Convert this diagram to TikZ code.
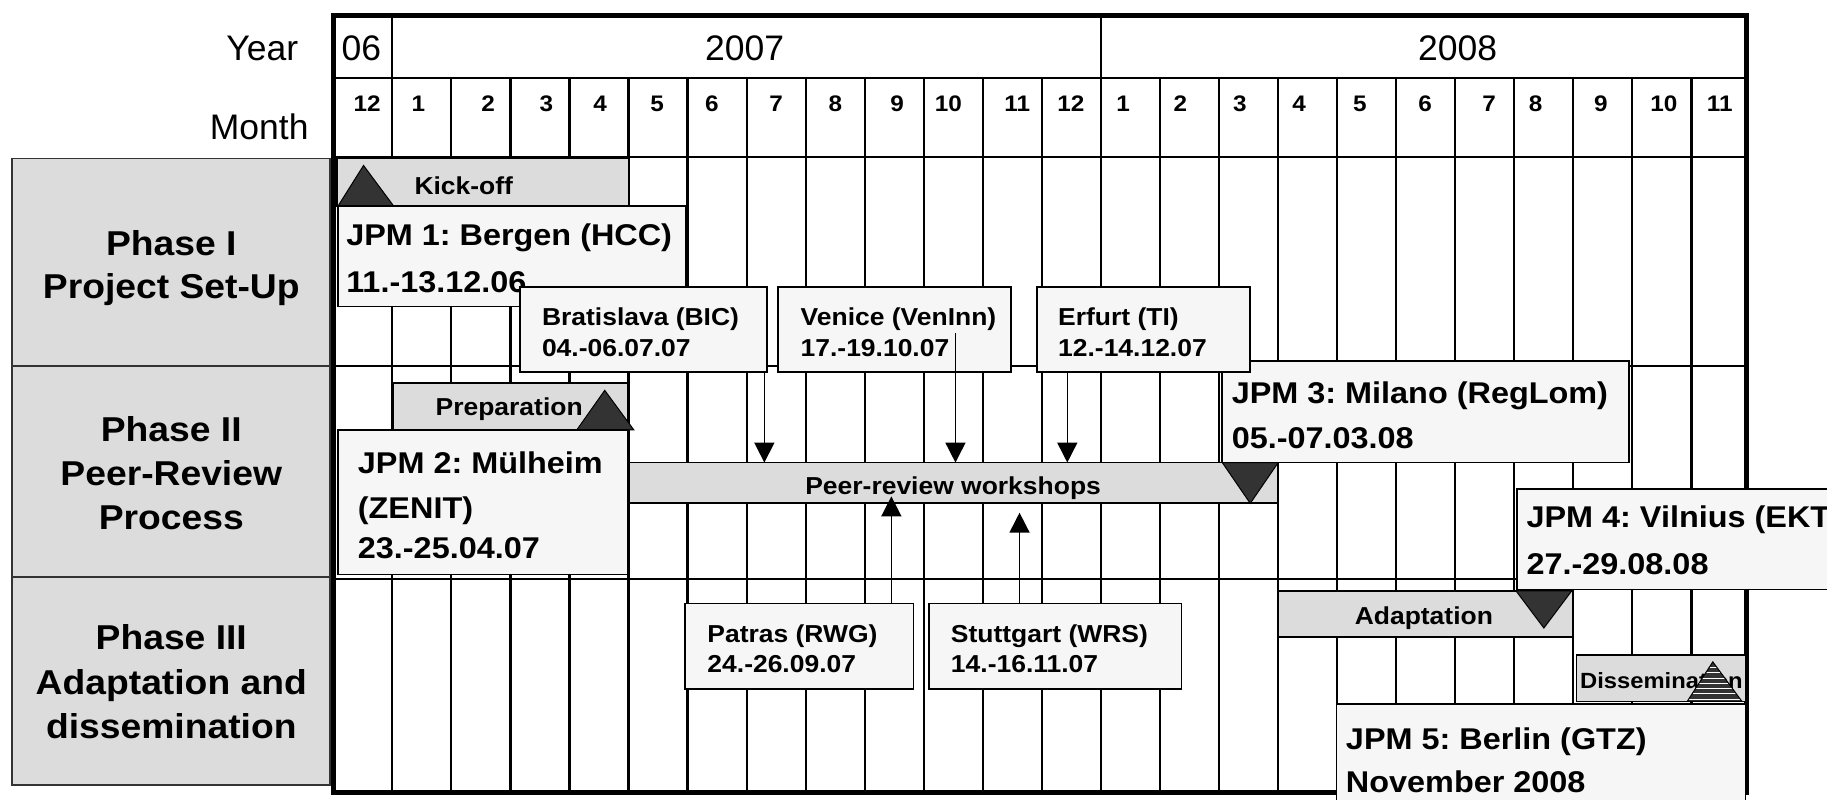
\documentclass[tikz,border=0pt]{standalone}
\usepackage{fontspec}
\setmainfont{Liberation Sans}[BoldFeatures={FakeStretch=1.08}]
\usetikzlibrary{arrows.meta,fit}
\definecolor{barg}{HTML}{DCDCDC}
\definecolor{boxg}{HTML}{F6F6F6}
\definecolor{trig}{HTML}{333333}
\newcommand\setfs[1]{\fontsize{#1}{#1}\selectfont}
\frenchspacing
\tikzset{
  gridl/.style={line width=2.2pt},
  outerb/.style={line width=5pt},
  rbox/.style={inner sep=0pt, outer sep=0pt, draw, line width=1.8pt},
  phasebox/.style={rbox, fill=barg, draw=black!80},
  barbox/.style={rbox, fill=barg},
  evbox/.style={rbox, fill=boxg},
  trimark/.style={fill=trig, draw=black, line width=1pt},
  regtxt/.style={inner sep=0pt, font=\setfs{35.5}},
  phtxt/.style={inner sep=0pt, font=\setfs{34.5}\bfseries, anchor=base},
  montxt/.style={inner sep=0pt, font=\setfs{22.5}\bfseries, anchor=base},
  jpmtxt/.style={inner sep=0pt, font=\setfs{30}\bfseries, anchor=base west},
  wstxt/.style={inner sep=0pt, font=\setfs{24.5}\bfseries, anchor=base west},
  bartxt/.style={inner sep=0pt, font=\setfs{24.5}\bfseries, anchor=base},
  arrw/.style={line width=1.6pt, -{Triangle[length=20pt,width=20pt]}},
}
\begin{document}
\begin{tikzpicture}[x=1.1652pt,y=-1.1652pt]
\useasboundingbox (0,0) rectangle (1568,686);
\clip (0,0) rectangle (1568,686);
\fill[white] (0,0) rectangle (1568,686);

% phase boxes
\node[phasebox, fit={(10,136) (283,314)}] (ph1) {};
\node[phasebox, fit={(10,314) (283,495)}] (ph2) {};
\node[phasebox, fit={(10,495) (283,674)}] (ph3) {};
\node[phtxt] (ph1a) at (147,219) {Phase I};
\node[phtxt] (ph1b) at (147,256) {Project Set-Up};
\node[phtxt] (ph2a) at (147,379) {Phase II};
\node[phtxt] (ph2b) at (147,417) {Peer-Review};
\node[phtxt] (ph2c) at (147,454) {Process};
\node[phtxt] (ph3a) at (147,557) {Phase III};
\node[phtxt] (ph3b) at (147,596) {Adaptation and};
\node[phtxt] (ph3c) at (147,634) {dissemination};

% grid
\foreach \k in {2,...,12,14,15,...,23}
  \draw[gridl] ({286+50.68*\k},67) -- ({286+50.68*\k},680);
\draw[gridl] ({286+50.68},13) -- ({286+50.68},680);
\draw[gridl] ({286+50.68*13},13) -- ({286+50.68*13},680);
\foreach \yy in {67,135,314,497}
  \draw[gridl] (286,\yy) -- (1498.5,\yy);
\draw[outerb] (286,13) rectangle (1498.5,680);

% year and month labels
\node[regtxt, anchor=base east] (lyear) at (256,52) {Year};
\node[regtxt, anchor=base east] (lmonth) at (265,120) {Month};
\node[regtxt, anchor=base west] (y06) at (293,52) {06};
\node[regtxt, anchor=base] (y07) at (639,52) {2007};
\node[regtxt, anchor=base] (y08) at (1251,52) {2008};
\foreach \x/\m [count=\i] in {315/12,359/1,419/2,469/3,515/4,564/5,611/6,666/7,717/8,770/9,814/10,873/11,919/12,964/1,1013/2,1064/3,1115/4,1167/5,1223/6,1278/7,1318/8,1374/9,1428/10,1476/11}
  \node[montxt] (mon\i) at (\x,96) {\m};

% Phase I
\node[barbox, fit={(289,136) (540,177)}] (kick) {};
\node[bartxt] (kicktxt) at (398,167) {Kick-off};
\draw[trimark] (290,177) -- (312,142) -- (338,177) -- cycle;
\node[evbox, fit={(290,177) (589,263)}] (jpm1) {};
\node[jpmtxt] (jpm1a) at (297,211) {JPM 1: Bergen (HCC)};
\node[jpmtxt] (jpm1b) at (297,251) {11.-13.12.06};

% Phase II
\node[barbox, fit={(337,329) (539,369)}] (prep) {};
\node[bartxt] (preptxt) at (437,357) {Preparation};
\draw[trimark] (495,369) -- (519,335) -- (544,369) -- cycle;
\node[evbox, fit={(290,369) (539,493)}] (jpm2) {};
\node[jpmtxt] (jpm2a) at (307,406) {JPM 2: Mülheim};
\node[jpmtxt] (jpm2b) at (307,445) {(ZENIT)};
\node[jpmtxt] (jpm2c) at (307,479) {23.-25.04.07};

\node[barbox, fit={(540,397) (1097,432)}] (peer) {};
\node[bartxt] (peertxt) at (818,424) {Peer-review workshops};
\draw[trimark] (1049,397) -- (1097,397) -- (1073,432) -- cycle;

\node[evbox, fit={(1049,310) (1398,397)}] (jpm3) {};
\node[jpmtxt] (jpm3a) at (1057,346) {JPM 3: Milano (RegLom)};
\node[jpmtxt] (jpm3b) at (1057,385) {05.-07.03.08};

% workshop boxes (top)
\node[evbox, fit={(446,246) (658,319)}] (brat) {};
\node[wstxt] (brata) at (465,279) {Bratislava (BIC)};
\node[wstxt] (bratb) at (465,306) {04.-06.07.07};
\node[evbox, fit={(668,246) (868,319)}] (ven) {};
\node[wstxt] (vena) at (687,279) {Venice (VenInn)};
\node[wstxt] (venb) at (687,306) {17.-19.10.07};
\node[evbox, fit={(890,246) (1073,319)}] (erf) {};
\node[wstxt] (erfa) at (908,279) {Erfurt (TI)};
\node[wstxt] (erfb) at (908,306) {12.-14.12.07};

\coordinate (sBrat) at (656,319);
\coordinate (sVen) at (820,286);
\coordinate (sErf) at (916,319);
\draw[arrw] (sBrat) -- (sBrat |- peer.north);
\draw[arrw] (sVen) -- (sVen |- peer.north);
\draw[arrw] (sErf) -- (sErf |- peer.north);

% Phase III
\node[evbox, fit={(1302,420) (1580,506)}] (jpm4) {};
\node[jpmtxt] (jpm4a) at (1310,453) {JPM 4: Vilnius (EKT)};
\node[jpmtxt] (jpm4b) at (1310,493) {27.-29.08.08};

\node[barbox, fit={(1097,507) (1350,547)}] (adap) {};
\node[bartxt] (adaptxt) at (1222,536) {Adaptation};
\draw[trimark] (1301,507) -- (1349,507) -- (1325,539) -- cycle;

\node[evbox, fit={(588,518) (784,591)}] (patr) {};
\node[wstxt] (patra) at (607,551) {Patras (RWG)};
\node[wstxt] (patrb) at (607,577) {24.-26.09.07};
\node[evbox, fit={(797,518) (1014,591)}] (stut) {};
\node[wstxt] (stuta) at (816,551) {Stuttgart (WRS)};
\node[wstxt] (stutb) at (816,577) {14.-16.11.07};
\coordinate (sPatr) at (765,518);
\coordinate (sStut) at (875,518);
\coordinate (ePatr) at (765,426);
\coordinate (eStut) at (875,440);
\draw[arrw] (sPatr) -- (ePatr);
\draw[arrw] (sStut) -- (eStut);

\node[barbox, fit={(1353,562) (1498,602)}] (diss) {};
\node[inner sep=0pt, font=\setfs{22}\bfseries, anchor=base west] (disstxt) at (1356,591) {Dissemination};
\begin{scope}
  \clip (1448,602) -- (1470,568) -- (1495,602) -- cycle;
  \fill[trig] (1440,560) rectangle (1500,610);
  \foreach \yy in {573,577.5,...,600}
    \draw[white, line width=0.9pt] (1440,\yy) -- (1500,\yy);
\end{scope}
\draw[draw=black, line width=1pt] (1448,602) -- (1470,568) -- (1495,602) -- cycle;

\node[evbox, fit={(1147,604) (1498,700)}] (jpm5) {};
\node[jpmtxt] (jpm5a) at (1155,643) {JPM 5: Berlin (GTZ)};
\node[jpmtxt] (jpm5b) at (1155,680) {November 2008};
\end{tikzpicture}
\end{document}
